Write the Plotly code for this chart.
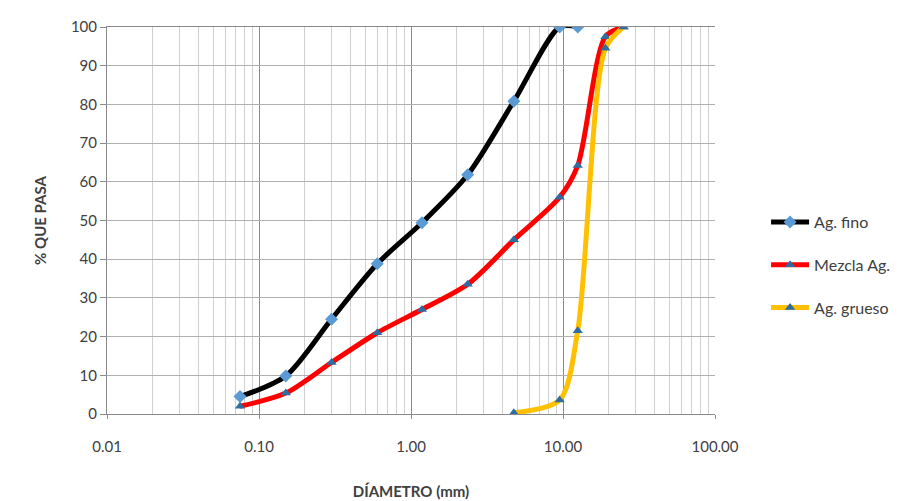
import plotly.graph_objects as go

sizes_fino = [0.075, 0.15, 0.3, 0.6, 1.18, 2.36, 4.75, 9.5, 12.5]
pasa_fino = [4.5, 9.8, 24.5, 38.8, 49.4, 61.8, 80.8, 100, 100]

sizes_mezcla = [0.075, 0.15, 0.3, 0.6, 1.18, 2.36, 4.75, 9.5, 12.5, 19.0, 25.0]
pasa_mezcla = [2.0, 5.4, 13.3, 21.0, 27.0, 33.5, 45.0, 56.0, 64.2, 97.5, 100]

sizes_grueso = [4.75, 9.5, 12.5, 19.0, 25.0]
pasa_grueso = [0.3, 3.6, 21.5, 94.5, 100]

x_ticks = [0.01, 0.1, 1, 10, 100]
x_ticktext = ["0.01", "0.10", "1.00", "10.00", "100.00"]
y_ticks = list(range(0, 101, 10))

minor_vals = [m * 10 ** e for e in range(-2, 2) for m in range(2, 10)]

font_family = "Lato, Roboto, Arial, sans-serif"
txt = "#404040"

fig = go.Figure()
fig.add_trace(go.Scatter(
    x=sizes_fino, y=pasa_fino, name="Ag. fino", mode="lines+markers", legendgroup="a",
    line=dict(color="#000000", width=5, shape="spline", smoothing=0.8),
    marker=dict(symbol="diamond", size=10, color="#5B9BD5"),
))
fig.add_trace(go.Scatter(
    x=sizes_mezcla, y=pasa_mezcla, name="Mezcla Ag.", mode="lines+markers", legendgroup="b",
    line=dict(color="#FF0000", width=5, shape="spline", smoothing=0.8),
    marker=dict(symbol="triangle-up", size=9, color="#2E6DA4"),
))
fig.add_trace(go.Scatter(
    x=sizes_grueso, y=pasa_grueso, name="Ag. grueso", mode="lines+markers", legendgroup="c",
    line=dict(color="#FFC000", width=5, shape="spline", smoothing=0.8),
    marker=dict(symbol="triangle-up", size=9, color="#2E6DA4"),
))

fig.update_layout(
    width=899, height=493,
    margin=dict(l=99, r=192, t=19, b=87, autoexpand=False),
    paper_bgcolor="white", plot_bgcolor="white",
    font=dict(family=font_family, size=15, color=txt),
    legend=dict(x=1.084, y=0.385, xanchor="left", yanchor="middle",
                font=dict(size=16, color=txt), tracegroupgap=19,
                itemwidth=38, bgcolor="rgba(0,0,0,0)"),
    xaxis=dict(
        type="log", range=[-2, 2], automargin=False,
        tickvals=x_ticks, ticktext=x_ticktext,
        showgrid=True, gridcolor="#8a8a8a", gridwidth=1,
        minor=dict(tickvals=minor_vals, showgrid=True, gridcolor="#d0d0d0", gridwidth=1),
        showline=True, linecolor="#8a8a8a", mirror=True,
        ticks="outside", ticklen=4, tickcolor="#8a8a8a", ticklabelstandoff=15,
        title=dict(text="<b>DÍAMETRO (mm)</b>", font=dict(size=15, color=txt), standoff=32),
        zeroline=False,
    ),
    yaxis=dict(
        range=[0, 100], tickvals=y_ticks, automargin=False,
        showgrid=True, gridcolor="#b0b0b0", gridwidth=1,
        showline=True, linecolor="#8a8a8a",
        ticks="outside", ticklen=6, tickcolor="#8a8a8a",
        title=dict(text="<b>% QUE PASA</b>", font=dict(size=15, color=txt), standoff=20),
        zeroline=False,
    ),
)

fig.write_html("out.html")
